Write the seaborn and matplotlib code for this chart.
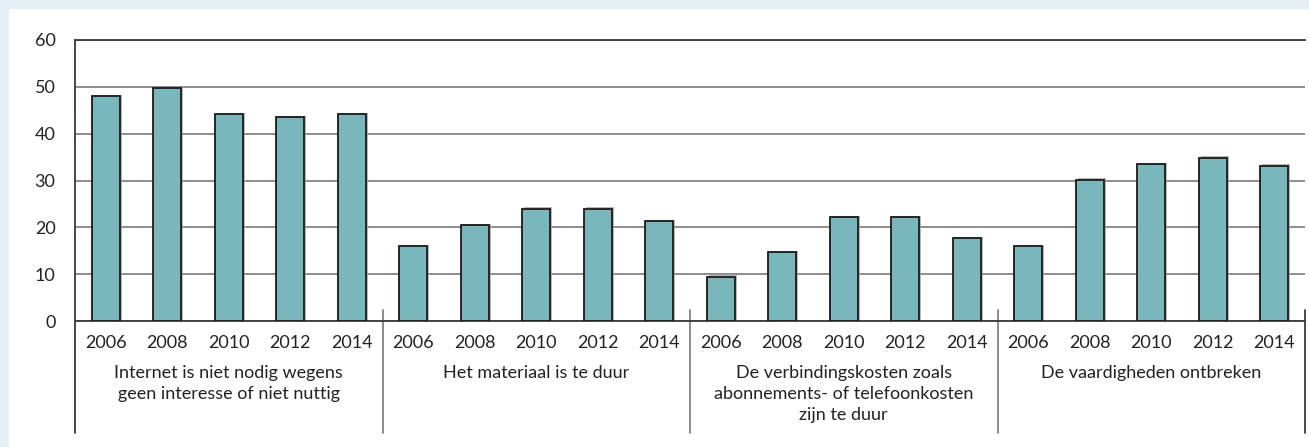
import matplotlib
matplotlib.use("Agg")
import matplotlib.pyplot as plt
import matplotlib.patheffects as pe
import matplotlib.transforms as mtransforms
import pandas as pd
import seaborn as sns

years = ["2006", "2008", "2010", "2012", "2014"]
groups = [
    "Internet is niet nodig wegens\ngeen interesse of niet nuttig",
    "Het materiaal is te duur",
    "De verbindingskosten zoals\nabonnements- of telefoonkosten\nzijn te duur",
    "De vaardigheden ontbreken",
]
niet_nodig = [48.0, 49.8, 44.1, 43.5, 44.1]
materiaal = [16.0, 20.5, 24.0, 24.0, 21.3]
verbinding = [9.5, 14.7, 22.2, 22.2, 17.8]
vaardigheden = [16.0, 30.2, 33.6, 34.9, 33.2]

series = [niet_nodig, materiaal, verbinding, vaardigheden]
rows = []
for g, vals in enumerate(series):
    for y, v in zip(years, vals):
        rows.append({"key": f"{g}_{y}", "jaar": y, "groep": g, "waarde": v})
df = pd.DataFrame(rows)

sns.set_style("white")
plt.rcParams["font.family"] = ["Lato", "DejaVu Sans"]

W, H = 1309, 447
fig = plt.figure(figsize=(W / 100, H / 100), dpi=100, facecolor="#e4eff6")
fig.patches.append(plt.Rectangle((9 / W, 0), 1 - 9 / W, 1 - 9 / H, transform=fig.transFigure,
                                 facecolor="white", edgecolor="none", zorder=-10))
ax = fig.add_axes([75 / W, 126 / H, 1230 / W, 281 / H])
ax.set_facecolor("white")

sns.barplot(data=df, x="key", y="waarde", color="#7ab7ba", saturation=1, width=0.46,
            edgecolor="#1a1a1a", linewidth=1.3, ax=ax, zorder=3)
for bar in ax.patches:
    bar.set_path_effects([pe.SimplePatchShadow(offset=(1.5, 0.8), shadow_rgbFace="#9a9a9a", alpha=0.7),
                          pe.Normal()])

n = len(df)
ax.set_xlim(-0.5, n - 0.5)
ax.set_ylim(0, 60)
ax.set_yticks(range(0, 61, 10))
ax.yaxis.grid(True, color="#7a7a7a", linewidth=1.2, zorder=0)
ax.set_axisbelow(True)
ax.set_xlabel("")
ax.set_ylabel("")
ax.set_xticks(range(n))
ax.set_xticklabels(list(df["jaar"]))
minor = [k - 0.5 for k in range(1, n) if k % 5 != 0]
ax.set_xticks(minor, minor=True)
ax.tick_params(axis="x", which="major", length=0, pad=10, labelsize=13, colors="#222222")
ax.tick_params(axis="x", which="minor", direction="in", length=10, width=1.2, color="#555555")
ax.tick_params(axis="y", length=0, pad=14, labelsize=13, colors="#222222")

ax.spines["right"].set_visible(False)
ax.spines["left"].set_visible(False)
ax.spines["top"].set_color("#3a3a3a")
ax.spines["top"].set_linewidth(1.3)
ax.spines["bottom"].set_color("#3a3a3a")
ax.spines["bottom"].set_linewidth(1.3)

trans = mtransforms.blended_transform_factory(ax.transData, ax.transAxes)
# left axis line extending below the plot
ax.plot([-0.5, -0.5], [1, -0.399], transform=trans, color="#3a3a3a", lw=1.3, clip_on=False, zorder=5)
for b in [4.5, 9.5, 14.5]:
    ax.plot([b, b], [0.039, -0.399], transform=trans, color="#777777", lw=1.2, clip_on=False)
ax.plot([n - 0.5, n - 0.5], [0.039, -0.399], transform=trans, color="#3a3a3a", lw=1.3, clip_on=False)

for g, label in enumerate(groups):
    ax.text(g * 5 + 2, -0.155, label, transform=trans, ha="center", va="top",
            fontsize=13, color="#222222", linespacing=1.4)

fig.savefig("out.png", dpi=100, facecolor=fig.get_facecolor())
